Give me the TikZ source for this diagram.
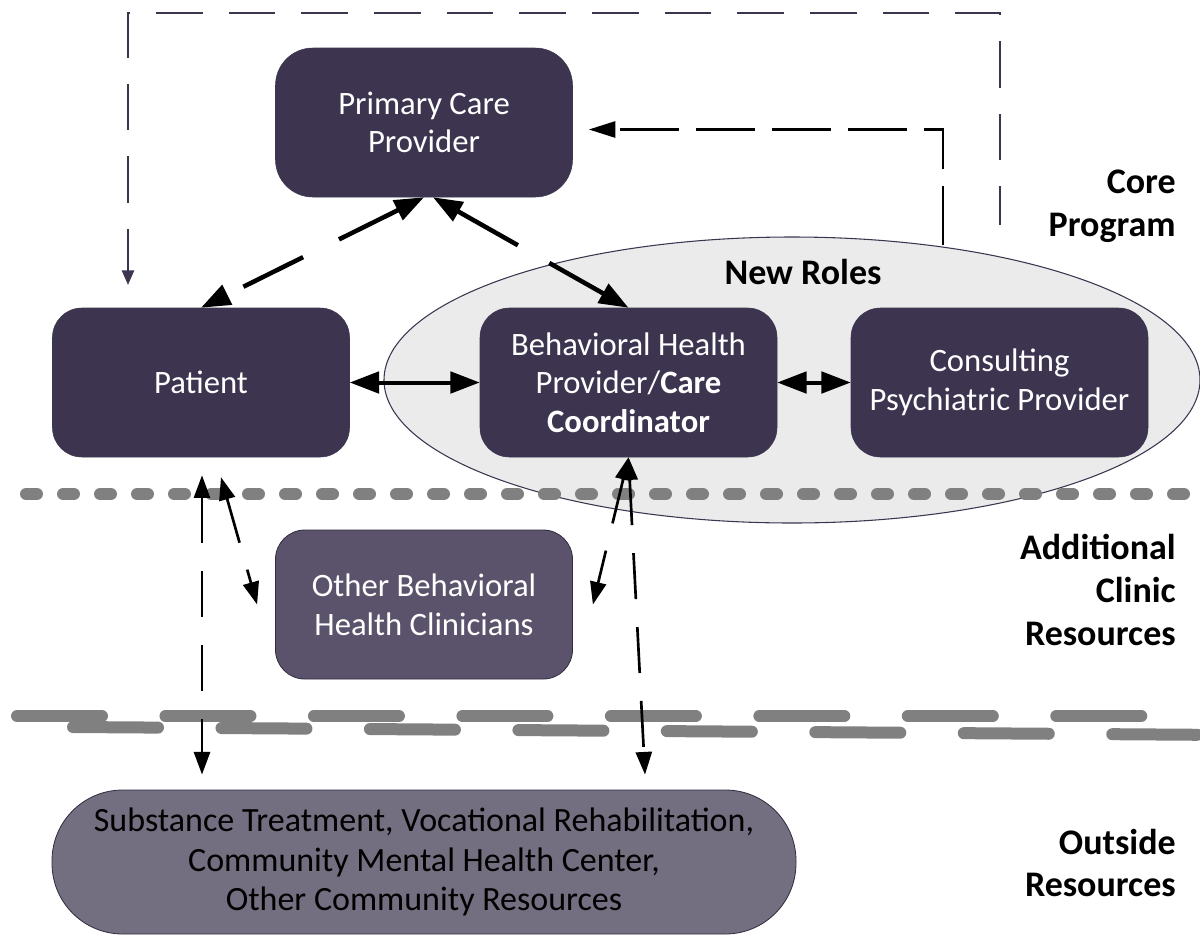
\documentclass[tikz,border=0pt]{standalone}
\usepackage{fontspec}
\setmainfont{Carlito}
\usepackage{tikz}
\usetikzlibrary{calc}
\usetikzlibrary{arrows.meta}
\definecolor{boxdark}{HTML}{3D3550}
\definecolor{boxmid}{HTML}{5B536B}
\definecolor{boxlight}{HTML}{736E80}
\definecolor{rolefill}{HTML}{EBEBEB}
\definecolor{sepgray}{HTML}{808080}
\tikzset{rolebox/.style={draw=boxdark,fill=boxdark,text=white,rounded corners=22pt,
    minimum width=222.75pt,minimum height=111.75pt,align=center,inner sep=0pt,
    font=\fontsize{24.5}{29}\selectfont},
    sidelabel/.style={anchor=east,align=right,inner sep=0pt,font=\bfseries\fontsize{27}{32}\selectfont},
    thickarrow/.style={line width=3.4pt,{Triangle[length=22pt,width=16pt]}-{Triangle[length=22pt,width=16pt]}},
    thinarrow/.style={line width=2pt,dash pattern=on 34.5pt off 21pt,
    {Triangle[length=17pt,width=12pt]}-{Triangle[length=17pt,width=12pt]}},
    separator/.style={sepgray,line width=9pt,line cap=round}}

\begin{document}
\begin{tikzpicture}[x=0.75pt,y=0.75pt,yscale=-1,xscale=1]
\useasboundingbox (0,0) rectangle (1200,936);

%Shape: Ellipse
\draw [draw=boxdark,fill=rolefill,line width=0.8pt] (792,380) ellipse [x radius=408, y radius=143];

%Straight Lines
\draw [separator,dash pattern=on 8.25pt off 19.5pt] (26,494) -- (1200,494);
%Straight Lines
\draw [separator,dash pattern=on 63.75pt off 47.6pt] (17,716) -- (1148,716);
\draw [separator,dash pattern=on 63.75pt off 47.6pt] (73,727) -- (1230,735);

% Box Nodes
\node [rolebox,rounded corners=28pt] (pcp) at (424,122.5) {Primary Care\\Provider};
\node [rolebox] (patient) at (201,382.5) {Patient};
\node [rolebox] (bhp) at (628.5,382.5) {Behavioral Health\\Provider/\textbf{Care}\\\textbf{Coordinator}};
\node [rolebox] (cpp) at (999.5,382.5) {Consulting\\Psychiatric Provider};
\node [rolebox,fill=boxmid,draw=boxdark!80!black,line width=0.6pt] (obhc) at (424,604.5) {Other Behavioral\\Health Clinicians};
\node [rolebox,fill=boxlight,draw=boxdark!80!black,line width=0.6pt,text=black,
    minimum width=558pt,minimum height=108pt,rounded corners=53pt,
    font=\fontsize{25.5}{29.5}\selectfont] (outside) at (424,862) {Substance Treatment, Vocational Rehabilitation,\\Community Mental Health Center,\\Other Community Resources};

% Text Node
\node [font=\bfseries\fontsize{27}{32}\selectfont,inner sep=0pt] (newRoles) at (803,272) {New Roles};
% Text Node
\node [sidelabel] (coreLabel) at (1176,206) {Core\\Program};
% Text Node
\node [sidelabel] (clinicLabel) at (1176,590) {Additional\\Clinic\\Resources};
% Text Node
\node [sidelabel] (outsideLabel) at (1176,863) {Outside\\Resources};

%Coordinates
\coordinate (loopStart) at (1000,225);
\coordinate (loopCorner) at (128,13);
\coordinate (loopEnd) at (128,285);
\coordinate (feedStart) at (943,245);
\coordinate (feedEnd) at ($(pcp.east)+(16,7)$);
\coordinate (patTipL) at ($(patient.south)+(1,18)$);
\coordinate (patTipR) at ($(patient.south)+(20,20)$);
\coordinate (obhcTipL) at ($(obhc.west)+(-18,0)$);
\coordinate (obhcTipR) at ($(obhc.east)+(20,0)$);
\coordinate (outTipL) at ($(outside.north)+(-222,-15)$);
\coordinate (outTipR) at ($(outside.north)+(221,-15)$);

%Dashed Lines
\draw [boxdark,line width=1.9pt,dash pattern=on 35pt off 19.5pt,dash phase=6pt,-{Triangle[length=11pt,width=9pt]}] (loopStart) |- (loopCorner) -- (loopEnd);
\draw [line width=2.2pt,dash pattern=on 44pt off 13pt,-{Triangle[length=20pt,width=12pt]}] (feedStart) |- (feedEnd);

%Arrows
\draw [thickarrow,dash pattern=on 50pt off 30pt] (pcp.south) -- (patient.north);
\draw [thickarrow,dash pattern=on 52pt off 27pt] ($(pcp.south)+(9,0)$) -- (bhp.north);
\draw [thickarrow,line width=3pt] (patient.east) -- (bhp.west);
\draw [thickarrow,line width=3pt] (bhp.east) -- (cpp.west);

\draw [thinarrow] (patTipL) -- (outTipL);
\draw [thinarrow] (patTipR) -- (obhcTipL);
\draw [thinarrow] (bhp.south) -- (obhcTipR);
\draw [thinarrow] (bhp.south) -- (outTipR);

\end{tikzpicture}
\end{document}
